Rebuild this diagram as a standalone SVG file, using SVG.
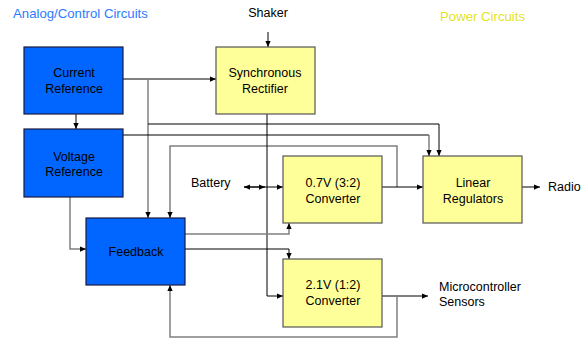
<svg xmlns="http://www.w3.org/2000/svg" width="583" height="339" viewBox="0 0 583 339">
<style>
text{font-family:"Liberation Sans",Arial,sans-serif;font-size:12.5px;fill:#000}
.c{text-anchor:middle}
.t{font-size:13.2px}
.blue rect{fill:#0066ff;stroke:#1a1a40;stroke-width:1.2}
.yel rect{fill:#ffff99;stroke:#555;stroke-width:1.2}
.k{fill:none;stroke:#000;stroke-width:1}
.g{fill:none;stroke:#808080;stroke-width:1.5}
</style>
<defs>
<marker id="a" viewBox="0 0 8 8" refX="8" refY="4" markerWidth="6" markerHeight="6" orient="auto-start-reverse" markerUnits="userSpaceOnUse">
<path d="M0,0.5 L8,4 L0,7.5 z" fill="#000"/>
</marker>
</defs>
<text x="13" y="18" class="t" style="fill:#2b7bff">Analog/Control Circuits</text>
<text x="440" y="21" class="t" style="fill:#e3e31e">Power Circuits</text>
<text x="268" y="17" class="c">Shaker</text>
<text x="191" y="187">Battery</text>
<text x="548" y="191">Radio</text>
<text x="439" y="291">Microcontroller</text>
<text x="439" y="306">Sensors</text>
<g id="connectors">
<path class="k" d="M268,32 V47" marker-end="url(#a)"/>
<path class="k" d="M123,79 H216" marker-end="url(#a)"/>
<path class="g" d="M148,79 V218" marker-end="url(#a)"/>
<path class="k" d="M76,114 V129" marker-end="url(#a)"/>
<path class="k" d="M148,124 H439 V156" marker-end="url(#a)"/>
<path class="k" d="M123,135 H429"/>
<path class="g" d="M429,135 V156" marker-end="url(#a)"/>
<path class="g" d="M397,187 V146 H170 V218" marker-end="url(#a)"/>
<path class="k" d="M267,114 V296 H283" marker-end="url(#a)"/>
<path class="k" d="M265,187 H244" marker-end="url(#a)"/>
<path class="k" d="M244,187 H265" marker-end="url(#a)"/>
<path class="k" d="M265,187 H283" marker-end="url(#a)"/>
<path class="k" d="M382,187 H423" marker-end="url(#a)"/>
<path class="k" d="M522,187 H540" marker-end="url(#a)"/>
<path class="g" d="M185,234 H289 V223" marker-end="url(#a)"/>
<path class="k" d="M185,249 H289 V259" marker-end="url(#a)"/>
<path class="g" d="M70,197 V249 H86" marker-end="url(#a)"/>
<path class="k" d="M382,296 H428" marker-end="url(#a)"/>
<path class="g" d="M397,296 V337 H170 V285" marker-end="url(#a)"/>
</g>
<g id="current-reference" class="blue"><rect x="24" y="47" width="99" height="67"/><text x="74" y="77" class="c">Current</text><text x="74" y="93" class="c">Reference</text></g>
<g id="synchronous-rectifier" class="yel"><rect x="216" y="47" width="99" height="67"/><text x="265" y="77" class="c">Synchronous</text><text x="265" y="93" class="c">Rectifier</text></g>
<g id="voltage-reference" class="blue"><rect x="24" y="129" width="99" height="68"/><text x="74" y="161" class="c">Voltage</text><text x="74" y="176" class="c">Reference</text></g>
<g id="feedback" class="blue"><rect x="86" y="218" width="99" height="67"/><text x="136" y="256" class="c">Feedback</text></g>
<g id="converter-07" class="yel"><rect x="283" y="156" width="99" height="67"/><text x="333" y="187" class="c">0.7V (3:2)</text><text x="333" y="203" class="c">Converter</text></g>
<g id="linear-regulators" class="yel"><rect x="423" y="156" width="99" height="67"/><text x="473" y="187" class="c">Linear</text><text x="473" y="203" class="c">Regulators</text></g>
<g id="converter-21" class="yel"><rect x="283" y="259" width="99" height="68"/><text x="333" y="289" class="c">2.1V (1:2)</text><text x="333" y="305" class="c">Converter</text></g>
</svg>
